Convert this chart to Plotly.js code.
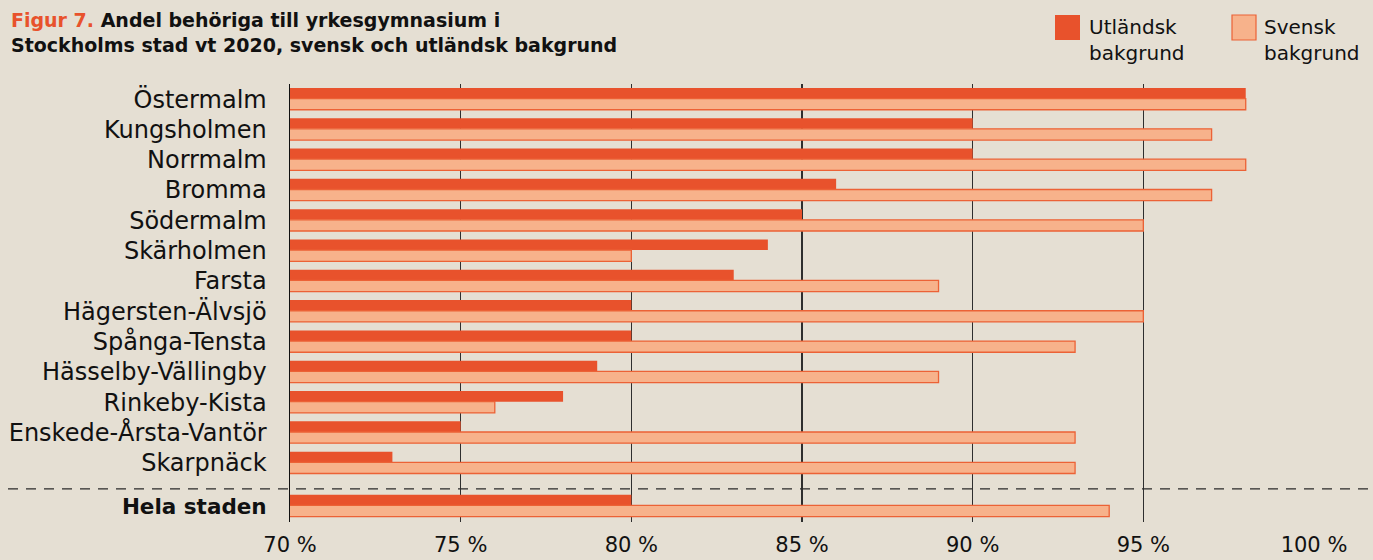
<!DOCTYPE html>
<html>
<head>
<meta charset="utf-8">
<script src="https://cdn.plot.ly/plotly-3.0.1.min.js"></script>
<style>html,body{margin:0;padding:0;background:#e5dfd3;}#chart{width:1373px;height:560px;}</style>
</head>
<body>
<div id="chart"></div>
<script>
const categories = ["Östermalm","Kungsholmen","Norrmalm","Bromma","Södermalm","Skärholmen","Farsta","Hägersten-Älvsjö","Spånga-Tensta","Hässelby-Vällingby","Rinkeby-Kista","Enskede-Årsta-Vantör","Skarpnäck","Hela staden"];
const utlandsk = [98,90,90,86,85,84,83,80,80,79,78,75,73,80];
const svensk   = [98,97,98,97,95,80,89,95,93,89,76,93,93,94];
const xTickVals = [70,75,80,85,90,95,100];
const xTickText = ["70 %","75 %","80 %","85 %","90 %","95 %","100 %"];
const legendNames = ["Utländsk<br>bakgrund","Svensk<br>bakgrund"];

const W = 1373, H = 560;
const M = {l:290, r:59, t:84, b:38};
const pw = W - M.l - M.r, ph = H - M.t - M.b;
const px = x => (x - M.l) / pw;
const py = y => (H - M.b - y) / ph;

// row positions: extra gap before the total row
const ypos = categories.map((c,i) => i < categories.length - 1 ? i : i + 0.42);
const ticktext = categories.map((c,i) => i === categories.length - 1
  ? "<span style='font-size:21.5px'><b>" + c + "</b></span>" : c);

const cU = "#e8522c", cS = "#f7b28b", cSline = "#ec6236";
const font = "'DejaVu Sans', 'Open Sans', sans-serif";

const traces = [
  {type:"bar", orientation:"h", name:"Utländsk bakgrund", y:ypos, x:utlandsk,
   width:0.35, offset:-0.37, marker:{color:cU, line:{width:0}}, hoverinfo:"x+name"},
  {type:"bar", orientation:"h", name:"Svensk bakgrund", y:ypos, x:svensk,
   width:0.37, offset:-0.02, marker:{color:cS, line:{color:cSline, width:1.3}}, hoverinfo:"x+name"}
];

const annotations = [
  {xref:"paper", yref:"paper", x:px(9), y:py(7), xanchor:"left", yanchor:"top", align:"left",
   showarrow:false,
   text:"<span style='color:#e8522c'>Figur 7.</span> Andel behöriga till yrkesgymnasium i<br>Stockholms stad vt 2020, svensk och utländsk bakgrund",
   font:{family:font, size:19, weight:700, color:"#111"}}
];
const legX = [1087, 1262];
legendNames.forEach((t, k) => {
  annotations.push({xref:"paper", yref:"paper", x:px(legX[k]), y:py(13),
    xanchor:"left", yanchor:"top", align:"left", text:t, showarrow:false,
    font:{family:font, size:20, color:"#111"}});
});

const layout = {
  width:W, height:H,
  paper_bgcolor:"#e5dfd3", plot_bgcolor:"#e5dfd3",
  margin:M, showlegend:false, barmode:"overlay",
  font:{family:font, color:"#1a1a1a"},
  xaxis:{range:[70,100], tickvals:xTickVals, ticktext:xTickText, showgrid:true,
    gridcolor:"#2e2e2e", gridwidth:1.1, zeroline:false, ticks:"", ticklabelstandoff:8,
    tickfont:{family:font, size:21, color:"#111"}, showline:false, fixedrange:true},
  yaxis:{range:[13.95,-0.5], tickvals:ypos, ticktext:ticktext, showgrid:false, zeroline:false,
    showline:true, linecolor:"#111", linewidth:1.5, ticks:"", ticklabelstandoff:17,
    tickfont:{family:font, size:24, color:"#111"}, fixedrange:true},
  shapes:[
    {type:"line", xref:"paper", yref:"y", x0:px(8), x1:px(1373), y0:12.86, y1:12.86,
     line:{color:"#2a2a2a", width:1.3, dash:"10px,8px"}},
    {type:"rect", xref:"paper", yref:"paper", x0:px(1055), x1:px(1080), y0:py(40), y1:py(15),
     fillcolor:cU, line:{width:0}},
    {type:"rect", xref:"paper", yref:"paper", x0:px(1232), x1:px(1256), y0:py(40), y1:py(15),
     fillcolor:cS, line:{color:cSline, width:1.2}}
  ],
  annotations:annotations
};

Plotly.newPlot("chart", traces, layout, {displayModeBar:false, staticPlot:true});
</script>
</body>
</html>
